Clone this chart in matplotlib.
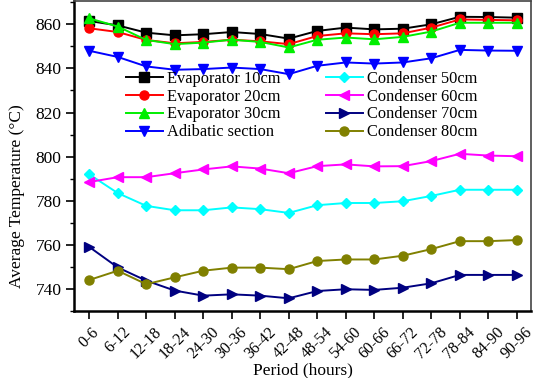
import matplotlib
matplotlib.use("Agg")
import matplotlib.pyplot as plt
from matplotlib.ticker import MultipleLocator

plt.rcParams['font.family'] = ['Liberation Serif', 'DejaVu Serif']

periods = ['0-6', '6-12', '12-18', '18-24', '24-30', '30-36', '36-42', '42-48',
           '48-54', '54-60', '60-66', '66-72', '72-78', '78-84', '84-90', '90-96']

evap_10 = [861.5, 859.5, 856.2, 855.0, 855.5, 856.5, 855.6, 853.5,
           857.0, 858.5, 857.7, 858.0, 860.0, 863.4, 863.3, 863.0]
evap_20 = [858.2, 856.5, 852.9, 851.4, 852.0, 853.0, 852.3, 851.0,
           854.7, 855.9, 855.5, 855.9, 858.5, 862.2, 862.0, 861.8]
evap_30 = [862.7, 859.0, 852.9, 851.0, 851.7, 853.0, 852.0, 849.5,
           853.0, 854.0, 853.2, 854.3, 856.7, 860.7, 860.7, 860.7]
adiabatic = [848.0, 845.2, 840.9, 839.4, 839.7, 840.4, 839.7, 837.4,
             841.2, 842.7, 842.2, 842.7, 844.6, 848.4, 848.1, 848.0]
cond_50 = [792.0, 783.5, 777.7, 775.7, 775.7, 777.0, 776.2, 774.5,
           778.0, 779.0, 779.0, 779.8, 782.2, 785.0, 785.0, 785.0]
cond_60 = [788.5, 790.7, 790.7, 792.5, 794.2, 795.6, 794.6, 792.5,
           795.7, 796.5, 795.6, 795.7, 798.0, 801.3, 800.5, 800.2]
cond_70 = [759.1, 749.8, 743.8, 739.3, 737.0, 737.6, 737.0, 735.8,
           739.1, 739.9, 739.6, 740.6, 742.6, 746.4, 746.4, 746.4]
cond_80 = [744.1, 748.3, 742.2, 745.3, 748.3, 749.7, 749.7, 749.0,
           752.7, 753.4, 753.4, 755.1, 758.1, 761.7, 761.7, 762.2]

series = [
    (evap_10, 'Evaporator 10cm', 'black', 's'),
    (evap_20, 'Evaporator 20cm', 'red', 'o'),
    (evap_30, 'Evaporator 30cm', '#00ee00', '^'),
    (adiabatic, 'Adibatic section', 'blue', 'v'),
    (cond_50, 'Condenser 50cm', 'cyan', 'D'),
    (cond_60, 'Condenser 60cm', 'magenta', '<'),
    (cond_70, 'Condenser 70cm', 'navy', '>'),
    (cond_80, 'Condenser 80cm', 'olive', 'o'),
]

fig = plt.figure(figsize=(5.37, 3.78), dpi=100)
ax = fig.add_axes([0.138, 0.177, 0.851, 0.82])

x = list(range(len(periods)))
lines = []
for vals, label, color, marker in series:
    ms = 5 if marker == 'D' else 6.5
    ln, = ax.plot(x, vals, color=color, marker=marker, markersize=ms,
                  linewidth=1.4, label=label)
    lines.append(ln)

ax.set_xlim(-0.53, 15.5)
ax.set_ylim(730, 870.5)
ax.set_xticks(x)
ax.set_xticklabels(periods, rotation=45, ha='center', va='top', fontsize=11.5)
ax.yaxis.set_major_locator(MultipleLocator(20))
ax.yaxis.set_minor_locator(MultipleLocator(10))
ax.tick_params(axis='both', direction='out', width=1.2, length=5.5, labelsize=12.5)
ax.tick_params(axis='x', labelsize=11.5, pad=4)
ax.tick_params(axis='y', which='minor', length=3, width=1)

for side in ['left', 'bottom']:
    ax.spines[side].set_linewidth(1.8)
for side in ['top', 'right']:
    ax.spines[side].set_linewidth(1.2)
    ax.spines[side].set_color('#444444')

ax.set_xlabel('Period (hours)', fontsize=12.5, labelpad=0)
ax.set_ylabel('Average Temperature (°C)', fontsize=12.5)
ax.yaxis.set_label_coords(-0.108, 0.37)

# two separate columns of legend entries
leg_kw = dict(frameon=False, fontsize=11.8, loc='upper left', handlelength=2.25,
              labelspacing=0.12, handletextpad=0.25, borderpad=0, borderaxespad=0)
leg1 = ax.legend(handles=lines[:4], bbox_to_anchor=(0.113, 0.776), **leg_kw)
ax.add_artist(leg1)
ax.legend(handles=lines[4:], bbox_to_anchor=(0.551, 0.776), **leg_kw)

fig.savefig('out.png', dpi=100)
